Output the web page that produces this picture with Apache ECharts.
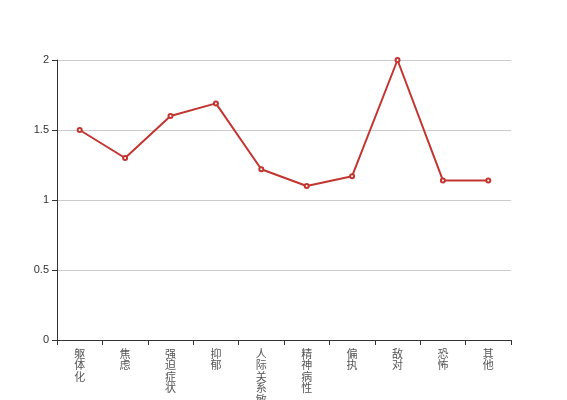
<!DOCTYPE html>
<html>
<head>
<meta charset="utf-8">
<script src="https://cdn.jsdelivr.net/npm/echarts@6/dist/echarts.min.js"></script>
<style>html,body{margin:0;padding:0;background:#fff;}#c{width:567px;height:400px;}</style>
</head>
<body>
<div id="c"></div>
<script>
const categories = ['躯体化','焦虑','强迫症状','抑郁','人际关系敏感','精神病性','偏执','敌对','恐怖','其他'];
const values = [1.5, 1.3, 1.6, 1.69, 1.22, 1.1, 1.17, 2.0, 1.14, 1.14];
const yTicks = [0, 0.5, 1, 1.5, 2];

const chart = echarts.init(document.getElementById('c'), null, {renderer: 'canvas'});
chart.setOption({
  animation: false,
  grid: {left: 57, right: 56, top: 60, bottom: 60, containLabel: false, outerBoundsMode: 'none'},
  xAxis: {
    type: 'category',
    data: categories,
    boundaryGap: true,
    axisLine: {lineStyle: {color: '#333', width: 1}},
    axisTick: {show: true, alignWithLabel: false, lineStyle: {color: '#333'}},
    axisLabel: {
      interval: 0,
      margin: 8,
      color: '#555',
      fontSize: 11,
      lineHeight: 11.5,
      fontFamily: 'Noto Sans CJK SC',
      formatter: v => v.split('').join('\n')
    },
    splitLine: {show: false}
  },
  yAxis: {
    type: 'value',
    min: yTicks[0],
    max: yTicks[yTicks.length - 1],
    interval: 0.5,
    axisLine: {show: true, lineStyle: {color: '#333', width: 1}},
    axisTick: {show: true, lineStyle: {color: '#333'}},
    axisLabel: {color: '#333', fontSize: 11, fontFamily: 'sans-serif', margin: 8},
    splitLine: {show: true, lineStyle: {color: '#ccc', width: 1}}
  },
  series: [{
    type: 'line',
    data: values,
    symbol: 'emptyCircle',
    symbolSize: 4,
    showAllSymbol: true,
    lineStyle: {color: '#c23531', width: 2},
    itemStyle: {color: '#c23531', borderColor: '#c23531', borderWidth: 1}
  }]
});
</script>
</body>
</html>
